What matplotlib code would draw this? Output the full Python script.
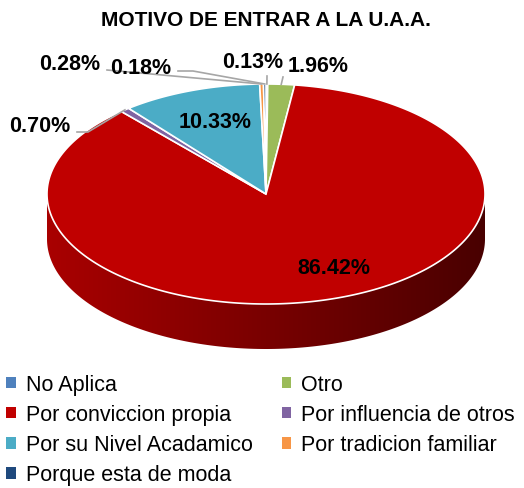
import numpy as np
import matplotlib.pyplot as plt
from matplotlib.colors import to_rgb
from matplotlib.patches import Patch, Polygon

# datos
categorias = ["No Aplica", "Otro", "Por conviccion propia", "Por influencia de otros",
              "Por su Nivel Acadamico", "Por tradicion familiar", "Porque esta de moda"]
porcentajes = [0.13, 1.96, 86.42, 0.70, 10.33, 0.28, 0.18]
colores = ["#4F81BD", "#9BBB59", "#C00000", "#8064A2", "#4BACC6", "#F79646", "#1F497D"]
titulo = "MOTIVO DE ENTRAR A LA U.A.A."

W, H = 524, 489
fig = plt.figure(figsize=(W / 100, H / 100), dpi=100)
ax = fig.add_axes([0, 0, 1, 1])
ax.set_xlim(0, W)
ax.set_ylim(H, 0)
ax.axis("off")

# geometria del pastel (pixeles)
cx, cy = 266, 195
rx, ry = 219, 110
prof = 45


def punto(ang, dy=0.0):
    a = np.radians(ang)
    return cx + rx * np.cos(a), cy - ry * np.sin(a) + dy


# angulos: empieza arriba, sentido horario
grados = np.array(porcentajes) / sum(porcentajes) * 360
fin = 90 - np.concatenate([[0], np.cumsum(grados)[:-1]])
ini = fin - grados

# lateral frontal con degradado horizontal
tt = np.linspace(0, 1, 256)
for i in range(len(categorias)):
    base = np.array(to_rgb(colores[i]))
    grad = np.clip((0.88 - 0.5 * tt)[None, :, None] * base[None, None, :], 0, 1)
    for off in (0, -360, 360):
        lo = max(ini[i] + off, -180)
        hi = min(fin[i] + off, 0)
        if hi <= lo:
            continue
        angs = np.linspace(lo, hi, 200)
        arriba = [punto(a) for a in angs]
        abajo = [punto(a, prof) for a in angs[::-1]]
        poly = Polygon(arriba + abajo, closed=True, fc="none", ec="none")
        ax.add_patch(poly)
        im = ax.imshow(grad, extent=(cx - rx, cx + rx, cy + ry + prof, cy - ry),
                       aspect="auto", zorder=1, interpolation="bilinear")
        im.set_clip_path(poly)

ax.set_xlim(0, W)
ax.set_ylim(H, 0)

# cara superior
for i in range(len(categorias)):
    angs = np.linspace(ini[i], fin[i], max(int(grados[i] * 2), 2))
    xs = [cx] + [punto(a)[0] for a in angs]
    ys = [cy] + [punto(a)[1] for a in angs]
    ax.fill(xs, ys, fc=colores[i], ec="white", lw=1.2, zorder=2, joinstyle="miter")

# etiquetas
medio = (ini + fin) / 2
fuente = dict(family=["Liberation Sans", "DejaVu Sans"], fontsize=15.5, fontweight="bold",
              ha="center", va="center", zorder=5)
dentro = {2: (334, 268), 4: (215, 122)}
fuera = {0: (253, 63), 1: (318, 67), 3: (40, 126), 5: (70, 64), 6: (141, 68)}
guias = {0: [(267, 77)], 1: [(283, 78)], 3: [(77, 133), (88, 133)],
         5: [(107, 71)], 6: [(178, 72), (193, 72)]}

for i, p in enumerate(porcentajes):
    txt = f"{p:.2f}%"
    if i in dentro:
        ax.text(*dentro[i], txt, **fuente)
    else:
        ax.text(*fuera[i], txt, **fuente)
        ex, ey = punto(medio[i])
        pts = guias[i] + [(ex, ey)]
        ax.plot([q[0] for q in pts], [q[1] for q in pts], color="#A6A6A6", lw=1.2, zorder=4)

ax.text(266, 21, titulo, family=["Liberation Sans", "DejaVu Sans"], fontsize=15,
        fontweight="bold", ha="center", va="center")

# leyenda (orden por filas como Excel)
orden = [0, 2, 4, 6, 1, 3, 5]
handles = [Patch(fc=colores[i], ec="none") for i in orden]
labels = [categorias[i] for i in orden]
fig.legend(handles, labels, ncol=2, loc="upper left", bbox_to_anchor=(2 / W, 1 - 371 / H),
           frameon=False, prop=dict(family="Liberation Sans", size=15.5),
           handlelength=0.45, handleheight=0.45, handletextpad=0.45,
           columnspacing=1.35, labelspacing=0.42, borderpad=0.2, borderaxespad=0)

fig.savefig("out.png", dpi=100)
